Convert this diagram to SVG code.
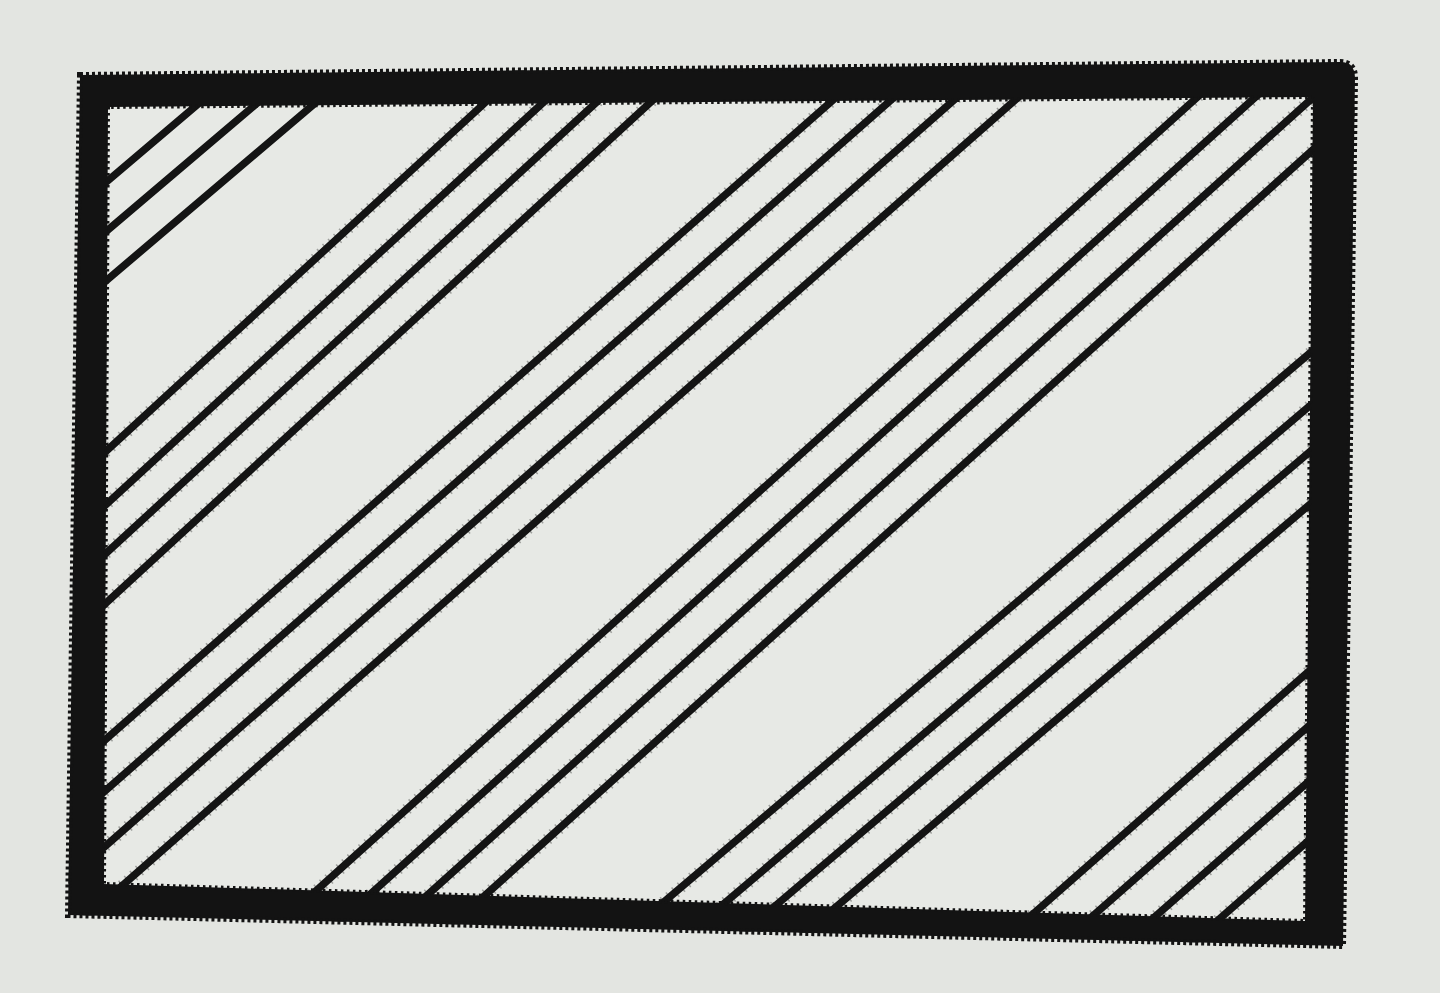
<svg xmlns="http://www.w3.org/2000/svg" width="1440" height="993" viewBox="0 0 1440 993">
  <defs>
    <style>
      .hatch { stroke: #141414; stroke-width: 7.5; stroke-linecap: round; fill: none; }
      .fuzz { stroke: #141414; stroke-width: 12; stroke-dasharray: 1.5 6; opacity: 0.35; fill: none; }
      .frame { fill: #131313; fill-rule: evenodd; }
      .teeth { fill: none; stroke: #131313; stroke-width: 6; stroke-dasharray: 3 3; }
      .teeth-in { fill: none; stroke: #131313; stroke-width: 4; stroke-dasharray: 2.5 3.5; }
    </style>
    <clipPath id="inside">
      <path d="M80,75 L1340,62 Q1355,62 1355,78 L1343,946 L68,915 Z"/>
    </clipPath>
  </defs>

  <rect x="0" y="0" width="1440" height="993" fill="#e3e5e1"/>
  <path d="M80,75 L1340,62 Q1355,62 1355,78 L1343,946 L68,915 Z" fill="#e7e9e5"/>

  <g id="hatching" clip-path="url(#inside)">
    <g id="group-corner">
      <line class="hatch" x1="-833" y1="980" x2="297" y2="20"/>
      <line class="hatch" x1="-775" y1="980" x2="355" y2="20"/>
      <line class="hatch" x1="-717" y1="980" x2="413" y2="20"/>
    </g>
    <g id="group-a">
      <line class="hatch" x1="-469" y1="980" x2="575" y2="20"/>
      <line class="hatch" x1="-411" y1="980" x2="633" y2="20"/>
      <line class="hatch" x1="-358" y1="980" x2="686" y2="20"/>
      <line class="hatch" x1="-304" y1="980" x2="740" y2="20"/>
      <line class="fuzz" x1="-469" y1="980" x2="575" y2="20"/>
      <line class="fuzz" x1="-411" y1="980" x2="633" y2="20"/>
      <line class="fuzz" x1="-358" y1="980" x2="686" y2="20"/>
      <line class="fuzz" x1="-304" y1="980" x2="740" y2="20"/>
    </g>
    <g id="group-b">
      <line class="hatch" x1="-168" y1="980" x2="924" y2="20"/>
      <line class="hatch" x1="-110" y1="980" x2="982" y2="20"/>
      <line class="hatch" x1="-47" y1="980" x2="1045" y2="20"/>
      <line class="hatch" x1="15" y1="980" x2="1106" y2="20"/>
      <line class="fuzz" x1="-168" y1="980" x2="924" y2="20"/>
      <line class="fuzz" x1="-110" y1="980" x2="982" y2="20"/>
      <line class="fuzz" x1="-47" y1="980" x2="1045" y2="20"/>
      <line class="fuzz" x1="15" y1="980" x2="1106" y2="20"/>
    </g>
    <g id="group-c">
      <line class="hatch" x1="217" y1="980" x2="1283" y2="20"/>
      <line class="hatch" x1="275" y1="980" x2="1341" y2="20"/>
      <line class="hatch" x1="333" y1="980" x2="1399" y2="20"/>
      <line class="hatch" x1="391" y1="980" x2="1457" y2="20"/>
      <line class="fuzz" x1="217" y1="980" x2="1283" y2="20"/>
      <line class="fuzz" x1="275" y1="980" x2="1341" y2="20"/>
      <line class="fuzz" x1="333" y1="980" x2="1399" y2="20"/>
      <line class="fuzz" x1="391" y1="980" x2="1457" y2="20"/>
    </g>
    <g id="group-d">
      <line class="hatch" x1="572" y1="980" x2="1702" y2="20"/>
      <line class="hatch" x1="634" y1="980" x2="1764" y2="20"/>
      <line class="hatch" x1="688" y1="980" x2="1818" y2="20"/>
      <line class="hatch" x1="750" y1="980" x2="1880" y2="20"/>
      <line class="fuzz" x1="572" y1="980" x2="1702" y2="20"/>
      <line class="fuzz" x1="634" y1="980" x2="1764" y2="20"/>
      <line class="fuzz" x1="688" y1="980" x2="1818" y2="20"/>
      <line class="fuzz" x1="750" y1="980" x2="1880" y2="20"/>
    </g>
    <g id="group-e">
      <line class="hatch" x1="958" y1="980" x2="2049" y2="20"/>
      <line class="hatch" x1="1020" y1="980" x2="2111" y2="20"/>
      <line class="hatch" x1="1083" y1="980" x2="2174" y2="20"/>
      <line class="hatch" x1="1150" y1="980" x2="2241" y2="20"/>
      <line class="fuzz" x1="958" y1="980" x2="2049" y2="20"/>
      <line class="fuzz" x1="1020" y1="980" x2="2111" y2="20"/>
      <line class="fuzz" x1="1083" y1="980" x2="2174" y2="20"/>
      <line class="fuzz" x1="1150" y1="980" x2="2241" y2="20"/>
    </g>
  </g>

  <g id="frame">
    <path class="frame" d="M80,75 L1340,62 Q1355,62 1355,78 L1343,946 L68,915 Z M108,107 L104,884 L1305,921 L1313,97 Z"/>
    <path class="teeth" d="M80,75 L1340,62 Q1355,62 1355,78 L1343,946 L68,915 Z"/>
    <path class="teeth-in" d="M108,107 L104,884 L1305,921 L1313,97 Z"/>
  </g>
</svg>
